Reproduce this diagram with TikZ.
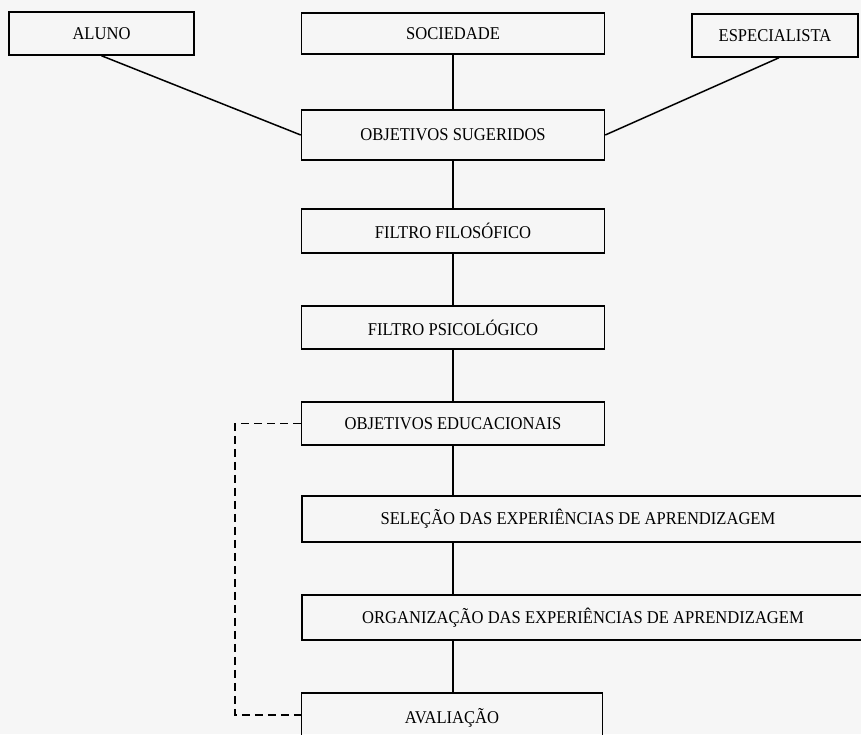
\documentclass[tikz,border=0pt]{standalone}
\usepackage{fontspec}
\usepackage{graphicx}
\setmainfont{Liberation Serif}
\newcommand{\cndlbl}[1]{\scalebox{0.92}[1]{#1}}
\begin{document}
\begin{tikzpicture}[x=1pt,y=-1pt,
  box/.style={draw=black, line width=1.5pt, fill=none, inner sep=0pt, anchor=center,
    font=\fontsize{18}{20}\selectfont},
  lbl/.style={font=\fontsize{18}{20}\selectfont, inner sep=0pt},
  link/.style={draw=black, line width=1.5pt},
  feedback/.style={draw=black, line width=1.5pt, dash pattern=on 8pt off 5pt}]
\fill[gray!7] (0,0) rectangle (861,734);
\useasboundingbox (0,0) rectangle (861,734);
\node[box, minimum width=185, minimum height=43] (aluno) at (101.5,33.5) {\cndlbl{ALUNO}};
\node[box, minimum width=303, minimum height=41] (soc) at (453,33.5) {\cndlbl{SOCIEDADE}};
\node[box, minimum width=166, minimum height=43] (esp) at (775,35.5) {\cndlbl{ESPECIALISTA}};
\node[box, minimum width=303, minimum height=50] (sug) at (453,135) {\cndlbl{OBJETIVOS SUGERIDOS}};
\node[box, minimum width=303, minimum height=44] (fil) at (453,231) {\cndlbl{FILTRO FILOSÓFICO}};
\node[box, minimum width=303, minimum height=43] (psi) at (453,327.5) {\cndlbl{FILTRO PSICOLÓGICO}};
\node[box, minimum width=303, minimum height=43] (edu) at (453,423.5) {\cndlbl{OBJETIVOS EDUCACIONAIS}};
\node[box, minimum width=590, minimum height=46] (sel) at (597,519) {};
\node[lbl] (seltxt) at (578,519) {\cndlbl{SELEÇÃO DAS EXPERIÊNCIAS DE APRENDIZAGEM}};
\node[box, minimum width=590, minimum height=45] (org) at (597,617.5) {};
\node[lbl] (orgtxt) at (583,617.5) {\cndlbl{ORGANIZAÇÃO DAS EXPERIÊNCIAS DE APRENDIZAGEM}};
\node[box, minimum width=301, minimum height=48] (aval) at (452,717) {};
\node[lbl] (avaltxt) at (452,718) {\cndlbl{AVALIAÇÃO}};
\coordinate (fbtop) at (235,423.5);
\coordinate (fbbot) at (235,715);
\draw[link] (aluno.south) -- (sug.west);
\draw[link] (esp.south) ++(4,0) -- (sug.east);
\draw[link] (soc.south) -- (sug.north);
\draw[link] (sug.south) -- (fil.north);
\draw[link] (fil.south) -- (psi.north);
\draw[link] (psi.south) -- (edu.north);
\draw[link] (edu.south) -- (edu.south |- sel.north);
\draw[link] (edu.south |- sel.south) -- (edu.south |- org.north);
\draw[link] (edu.south |- org.south) -- (edu.south |- aval.north);
\draw[feedback] (edu.west) -- (fbtop) -- (fbbot) -- (fbbot -| aval.west);
\end{tikzpicture}
\end{document}
